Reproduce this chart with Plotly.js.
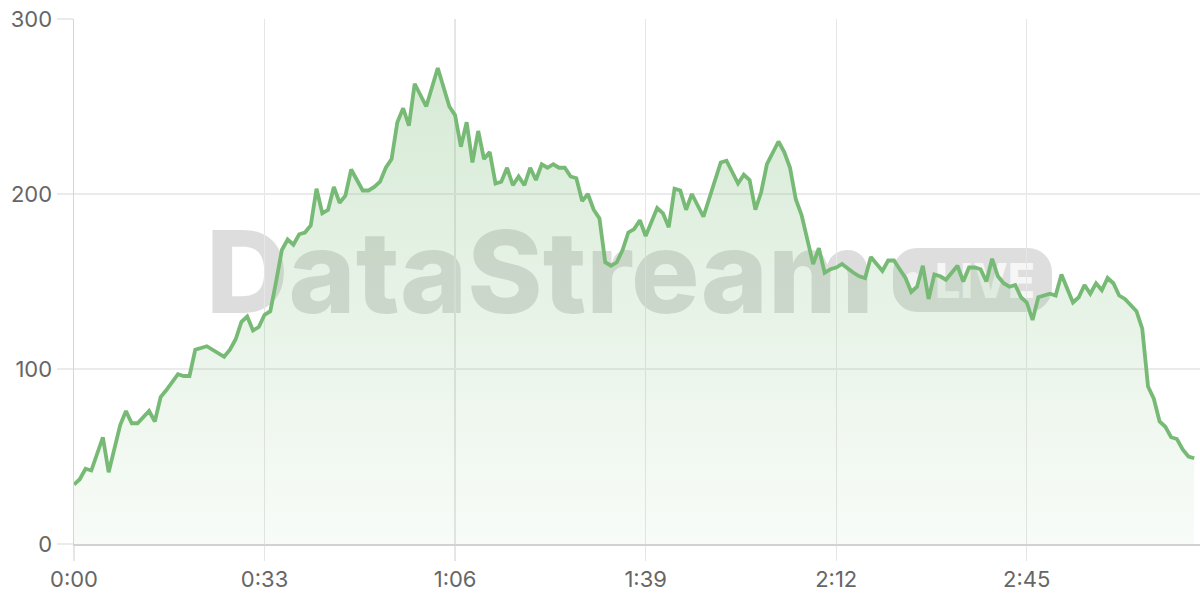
<!DOCTYPE html>
<html>
<head>
<meta charset="utf-8">
<script src="https://cdn.plot.ly/plotly-3.0.1.min.js"></script>
<style>
html,body{margin:0;padding:0;background:#fff;}
#wrap{position:relative;width:1200px;height:600px;}
#mark{position:absolute;left:0;top:0;width:1200px;height:600px;z-index:0;}
#chart{position:absolute;left:0;top:0;width:1200px;height:600px;z-index:1;}
</style>
</head>
<body>
<div id="wrap">
<svg id="mark" width="1200" height="600" xmlns="http://www.w3.org/2000/svg">
  <text id="wmText" x="206" y="313" textLength="668" lengthAdjust="spacingAndGlyphs"
        font-family="Inter, 'Liberation Sans', Arial, sans-serif" font-weight="800" font-size="114"
        fill="rgba(0,0,0,0.135)"></text>
  <rect x="893" y="248" width="159" height="64" rx="24" ry="24" fill="rgba(0,0,0,0.13)"></rect>
  <circle cx="913" cy="280" r="8" fill="rgba(255,255,255,0.6)"></circle>
  <text id="badgeText" x="935" y="298" textLength="100" lengthAdjust="spacingAndGlyphs"
        font-family="Inter, 'Liberation Sans', Arial, sans-serif" font-weight="800" font-size="48"
        fill="rgba(255,255,255,0.75)"></text>
</svg>
<div id="chart"></div>
</div>
<script>
// elapsed time in seconds
const seconds = [0,1,2,3,5,6,8,9,10,11,13,14,15,16,18,19,20,21,23,26,27,28,29,30,31,32,33,34,35,36,37,38,39,40,41,42,43,44,45,46,47,48,50,51,52,53,54,55,56,57,58,59,61,63,65,66,67,68,69,70,71,72,73,74,75,76,77,78,79,80,81,82,83,84,85,86,87,88,89,90,91,92,93,94,95,96,97,98,99,101,102,103,104,105,106,107,109,110,112,113,115,116,117,118,119,120,122,123,124,125,126,128,129,130,131,132,133,135,136,137,138,139,140,141,142,143,144,145,146,147,148,149,150,151,153,154,155,156,157,158,159,160,161,162,163,164,165,166,167,169,170,171,173,174,175,176,177,178,179,180,181,182,184,185,186,187,188,189,190,191,192,193,194];
const values = [34,37,43,42,61,41,68,76,69,69,76,70,84,88,97,96,96,111,113,107,111,117,127,130,122,124,131,133,150,168,174,171,177,178,182,203,189,191,204,195,199,214,202,202,204,207,215,220,241,249,239,263,250,272,250,245,227,241,218,236,220,224,206,207,215,205,210,205,215,208,217,215,217,215,215,210,209,196,200,191,186,161,159,161,168,178,180,185,176,192,189,181,203,202,191,200,187,197,218,219,206,211,208,191,201,217,230,224,215,197,188,160,169,155,157,158,160,155,153,152,164,160,156,162,162,157,152,144,147,159,140,154,153,151,159,150,158,158,157,150,163,153,149,147,148,141,138,128,141,143,142,154,138,141,148,143,149,145,152,149,142,140,133,123,90,83,70,67,61,60,54,50,49];
const tickSeconds = [0,33,66,99,132,165];
const tickLabels = ["0:00","0:33","1:06","1:39","2:12","2:45"];
const yTicks = [0,100,200,300];
const watermarkText = "DataStream";
const badgeText = "LIVE";

document.getElementById("wmText").textContent = watermarkText;
document.getElementById("badgeText").textContent = badgeText;

const green = "#77ba75";

const trace = {
  x: seconds,
  y: values,
  type: "scatter",
  mode: "lines",
  line: {color: green, width: 3.8, shape: "linear"},
  fill: "tozeroy",
  fillgradient: {
    type: "vertical",
    colorscale: [[0, "rgba(120,186,118,0.05)"], [1, "rgba(120,186,118,0.30)"]]
  },
  hoverinfo: "skip"
};

const layout = {
  width: 1200,
  height: 600,
  margin: {l: 74, r: 0, t: 19, b: 56},
  paper_bgcolor: "rgba(0,0,0,0)",
  plot_bgcolor: "rgba(0,0,0,0)",
  showlegend: false,
  font: {family: "Inter, 'Open Sans', sans-serif", color: "#666666", size: 22},
  xaxis: {
    range: [0, 195],
    tickmode: "array",
    tickvals: tickSeconds,
    ticktext: tickLabels,
    showgrid: true,
    gridcolor: "#e6e6e6",
    gridwidth: 1.3,
    ticks: "outside",
    ticklen: 15,
    tickcolor: "#e6e6e6",
    tickwidth: 1.3,
    showline: true,
    linecolor: "#d2d2d2",
    linewidth: 1.5,
    zeroline: false,
    tickfont: {size: 22, color: "#666666"},
    fixedrange: true
  },
  yaxis: {
    range: [0, 300],
    tickmode: "array",
    tickvals: yTicks,
    showgrid: true,
    gridcolor: "#ebebeb",
    gridwidth: 1.3,
    ticks: "outside",
    ticklen: 16,
    tickcolor: "#ebebeb",
    tickwidth: 1.3,
    showline: true,
    linecolor: "#d6d6d6",
    linewidth: 1.5,
    zeroline: false,
    tickfont: {size: 22, color: "#666666"},
    fixedrange: true
  }
};

Plotly.newPlot("chart", [trace], layout, {displayModeBar: false, staticPlot: true});
</script>
</body>
</html>
